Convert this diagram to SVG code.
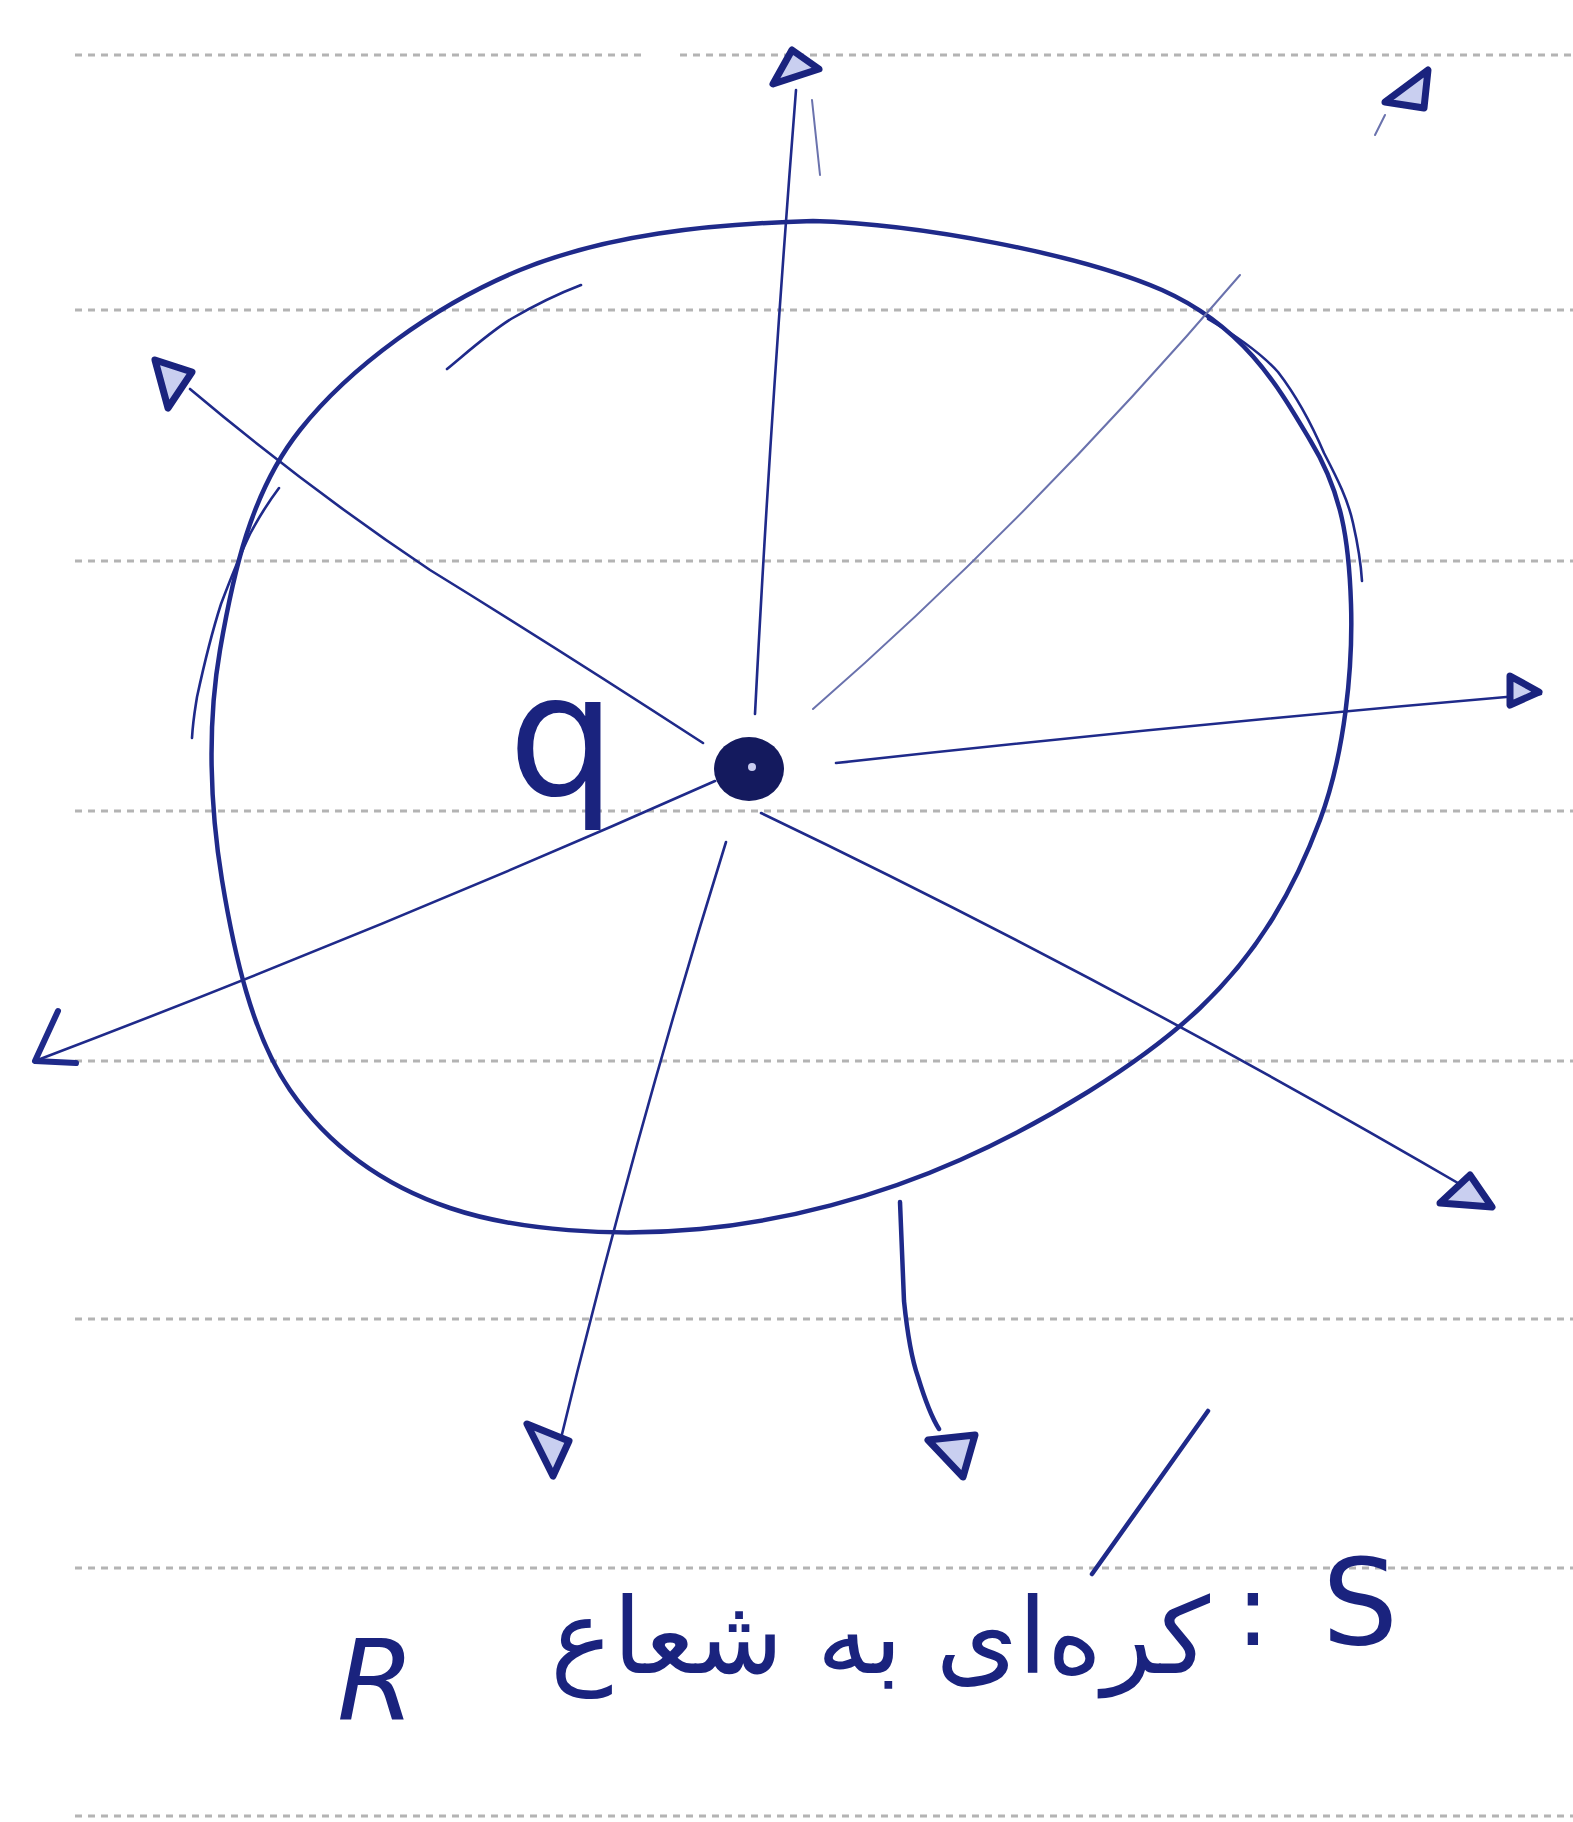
<svg xmlns="http://www.w3.org/2000/svg" width="1573" height="1822" viewBox="0 0 1573 1822">
<style>
.rule{stroke:#b4b4b4;stroke-width:3;stroke-dasharray:7 6;fill:none}
.ink{stroke:#1f2a8a;fill:none;stroke-linecap:round;stroke-linejoin:round}
.surf{stroke-width:4.5}
.ray{stroke-width:2.6}
.faint{stroke:#6a72ad;stroke-width:2}
.head{stroke:#1a237e;stroke-width:7;fill:#c9cff0;stroke-linejoin:round}
.txt{fill:#1a237e;font-family:"DejaVu Sans",sans-serif}
</style>
<rect width="1573" height="1822" fill="#ffffff"/>
<g id="paper-rules">
<line class="rule" x1="75" y1="55" x2="645" y2="55"/>
<line class="rule" x1="680" y1="55" x2="1573" y2="55"/>
<line class="rule" x1="75" y1="310" x2="1573" y2="310"/>
<line class="rule" x1="75" y1="561" x2="1573" y2="561"/>
<line class="rule" x1="75" y1="811" x2="1573" y2="811"/>
<line class="rule" x1="75" y1="1061" x2="1573" y2="1061"/>
<line class="rule" x1="75" y1="1319" x2="1573" y2="1319"/>
<line class="rule" x1="75" y1="1568" x2="1573" y2="1568"/>
<line class="rule" x1="75" y1="1816" x2="1573" y2="1816"/>
</g>
<g id="surface">
<path class="ink surf" d="M813,221 C920,224 1079,254 1162,290 C1245,327 1279,388 1310,440 C1342,492 1349,541 1351,604 C1353,667 1345,753 1320,820 C1295,887 1260,951 1200,1008 C1140,1065 1043,1123 960,1160 C877,1197 785,1221 700,1229 C615,1237 518,1231 450,1208 C382,1185 328,1145 290,1090 C252,1035 234,953 222,880 C210,807 207,725 220,650 C233,575 250,493 300,430 C350,367 435,305 520,270 C606,235 706,224 813,221 Z"/>
<path class="ink ray" d="M447,369 C470,350 490,332 511,319 C535,305 560,293 581,285"/>
<path class="ink ray" d="M192,738 C193,720 195,710 197,697 C205,660 212,632 221,604 C232,575 240,555 250,534 C260,515 270,500 279,488"/>
<path class="ink ray" d="M1208,319 C1235,335 1260,352 1278,372 C1298,398 1312,425 1324,453 C1338,480 1348,500 1353,523 C1358,545 1361,565 1362,581"/>
</g>
<g id="charge-q">
<ellipse cx="749" cy="769" rx="35" ry="32" fill="#141a5e"/>
<circle cx="752" cy="767" r="4" fill="#c9cdf0"/>
<text class="txt" x="508" y="795" font-size="170">q</text>
</g>
<g id="field-lines">
<path class="ink ray" d="M755,714 Q770,420 796,90"/>
<path class="ink faint" d="M812,100 L820,175"/>
<polygon class="head" points="792,50 773,84 819,69"/>
<path class="ink faint" d="M813,709 Q1030,520 1240,275"/>
<path class="ink faint" d="M1375,135 L1385,115"/>
<polygon class="head" points="1385,102 1428,70 1424,108"/>
<path class="ink ray" d="M703,743 Q560,650 430,570 Q310,490 190,389"/>
<polygon class="head" points="155,360 192,372 168,408"/>
<path class="ink ray" d="M836,763 Q1180,725 1541,694"/>
<polygon class="head" points="1510,676 1539,692 1510,705"/>
<path class="ink ray" d="M715,781 Q380,930 35,1061"/>
<polyline class="ink" stroke-width="6" points="58,1011 35,1061 76,1063"/>
<path class="ink ray" d="M726,842 Q630,1150 552,1475"/>
<polygon class="head" points="527,1424 569,1441 553,1476"/>
<path class="ink ray" d="M761,813 Q1110,980 1470,1190"/>
<polygon class="head" points="1440,1203 1470,1175 1492,1207"/>
<path class="ink surf" d="M900,1202 C902,1250 903,1280 904,1301 C908,1340 912,1360 918,1377 C925,1400 932,1418 939,1429"/>
<polygon class="head" points="928,1440 975,1435 963,1477"/>
</g>
<g id="caption">
<text class="txt" x="337" y="1720" font-size="112" font-style="italic">R</text>
<text class="txt" x="1210" y="1673" font-size="105" text-anchor="end">کره‌ای به شعاع</text>
<line class="ink surf" x1="1208" y1="1411" x2="1092" y2="1574"/>
<text class="txt" x="1236" y="1645" font-size="100">:</text>
<text class="txt" x="1322" y="1644" font-size="120">S</text>
</g>
</svg>
